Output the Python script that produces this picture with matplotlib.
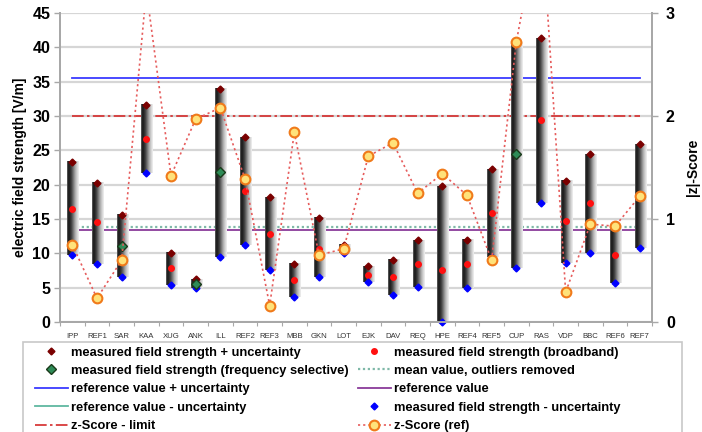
import matplotlib

matplotlib.use("Agg")
import matplotlib.pyplot as plt
import numpy as np
from matplotlib.colors import LinearSegmentedColormap
from matplotlib.lines import Line2D
from matplotlib.patches import Rectangle

plt.rcParams["font.family"] = ["Liberation Sans", "DejaVu Sans"]

# ---- data ----
labs = ["IPP", "REF1", "SAR", "KAA", "XUG", "ANK", "ILL", "REF2", "REF3", "MBB",
        "GKN", "LOT", "EJK", "DAV", "REQ", "HPE", "REF4", "REF5", "CUP", "RAS",
        "VDP", "BBC", "REF6", "REF7"]
upper = [23.25, 20.3, 15.6, 31.6, 10.1, 6.2, 34.0, 26.9, 18.2, 8.5,
         15.2, 11.2, 8.1, 9.0, 11.9, 19.8, 12.0, 22.3, 40.8, 41.4,
         20.6, 24.5, 13.9, 25.9]
lower = [9.7, 8.4, 6.5, 21.65, 5.4, 4.9, 9.5, 11.2, 7.6, 3.6,
         6.6, 10.0, 5.8, 3.9, 5.1, 0.0, 5.0, 9.5, 7.9, 17.4,
         8.6, 10.1, 5.7, 10.8]
nan = np.nan
broadband = [16.5, 14.5, nan, 26.6, 7.8, nan, nan, 19.1, 12.8, 6.1,
             10.7, 10.6, 6.9, 6.5, 8.4, 7.6, 8.5, 15.9, nan, 29.4,
             14.7, 17.4, 9.75, 18.35]
freqsel = [nan, nan, 11.0, nan, nan, 5.5, 21.8, nan, nan, nan,
           nan, nan, nan, nan, nan, nan, nan, nan, 24.4, nan,
           nan, nan, nan, nan]
zscore = [0.75, 0.23, 0.60, 3.22, 1.42, 1.97, 2.08, 1.39, 0.16, 1.84,
          0.65, 0.71, 1.61, 1.74, 1.25, 1.44, 1.23, 0.60, 2.72, 4.0,
          0.29, 0.95, 0.93, 1.22]
REF_PLUS = 35.5
REF_VALUE = 13.4
REF_MINUS = REF_VALUE - (REF_PLUS - REF_VALUE)  # below 0, off the chart
MEAN_CLEAN = 13.9
Z_LIMIT = 2.0

BOLD = dict(fontweight="bold")
GRID = "#d6d6d6"
SPINE = "#a8a8a8"
ZLINE = dict(ls=(0, (1.3, 1.8)), lw=1.2, color="#e65c5c", marker="o",
             ms=7, mfc="#ffe27a", mec="#f07a1a", mew=1.5)

x = np.arange(len(labs))
fig = plt.figure(figsize=(7.02, 4.32), dpi=100)
ax = fig.add_axes([60 / 702, 110 / 432, 592 / 702, 309 / 432])
ax2 = ax.twinx()

# horizontal reference lines (behind the bars)
span = [x[0], x[-1]]
ax.plot(span, [REF_PLUS] * 2, color="#3a3aff", lw=1.3, zorder=2)
ax.plot(span, [REF_VALUE] * 2, color="#8a3c9a", lw=1.3, zorder=2)
ax.plot(span, [REF_MINUS] * 2, color="#5fb8a0", lw=1.3, zorder=2)
ax.plot(span, [MEAN_CLEAN] * 2, color="#7fb8a8", lw=1.6,
        ls=(0, (1, 1.2)), zorder=2)
ax.plot(span, [Z_LIMIT * 15] * 2, color="#d42a2a", lw=1.2,
        ls=(0, (7, 2, 1.5, 2)), zorder=2)

# cylinder-like gradient bars
cyl = LinearSegmentedColormap.from_list(
    "cyl", [(0, "#6a6a6a"), (0.12, "#151515"), (0.35, "#3c3c3c"),
            (0.72, "#b4b4b4"), (1, "#f2f2f2")])
grad = np.linspace(0, 1, 64).reshape(1, -1)
for xi, lo, hi in zip(x, lower, upper):
    ax.imshow(grad, cmap=cyl, aspect="auto", interpolation="bilinear",
              extent=(xi - 0.2, xi + 0.26, lo, hi), zorder=3)

ax.plot(x, upper, ls="none", marker="D", ms=3.5, color="#7a0000", zorder=4)
ax.plot(x, broadband, ls="none", marker="o", ms=4, color="#ff1010", zorder=4)
ax.plot(x, lower, ls="none", marker="D", ms=3.5, color="#0000ff", zorder=4,
        clip_on=False)
ax.plot(x, freqsel, ls="none", marker="D", ms=5.5, mfc="#2e8b57", mec="#1a3a1a",
        mew=1.0, zorder=5)

ax.set_xlim(-0.5, len(labs) - 0.5)
ax.set_ylim(0, 45)
ax.set_aspect("auto")
ax.set_yticks(range(0, 46, 5))
ax.yaxis.grid(True, color=GRID, lw=1.6, zorder=0)
ax.set_axisbelow(True)
ax.set_xticks(x)
ax.set_xticklabels(labs, fontsize=5.6, color="#333333")
ax.set_xticks(np.arange(-0.5, len(labs), 1), minor=True)
ax.tick_params(axis="x", which="major", length=0, pad=8)
ax.tick_params(axis="x", which="minor", length=3, color=SPINE, width=0.8)
ax.tick_params(axis="y", length=4, color=SPINE, width=1.0, pad=3,
               labelsize=11.5)
for t in ax.get_yticklabels():
    t.set_fontweight("bold")
ax.set_ylabel("electric field strength [V/m]", fontsize=10, labelpad=4, **BOLD)

# z-score on the right axis
ax2.plot(x, zscore, zorder=6, **ZLINE)
ax2.set_ylim(0, 3)
ax2.set_yticks([0, 1, 2, 3])
ax2.tick_params(axis="y", length=4, color=SPINE, width=1.0, pad=6,
                labelsize=11.5)
for t in ax2.get_yticklabels():
    t.set_fontweight("bold")
ax2.set_ylabel("|z|-Score", fontsize=10, labelpad=8, **BOLD)

for a in (ax, ax2):
    a.spines["top"].set_visible(False)
    for side in ("left", "right", "bottom"):
        a.spines[side].set_color(SPINE)
        a.spines[side].set_linewidth(1.4)

# legend in a box under the plot
handles = [
    Line2D([], [], ls="none", marker="D", ms=3.5, color="#7a0000"),
    Line2D([], [], ls="none", marker="D", ms=5.5, mfc="#2e8b57", mec="#1a3a1a"),
    Line2D([], [], color="#3a3aff", lw=1.3),
    Line2D([], [], color="#5fb8a0", lw=1.3),
    Line2D([], [], color="#d42a2a", lw=1.2, ls=(0, (7, 2, 1.5, 2))),
    Line2D([], [], ls="none", marker="o", ms=4, color="#ff1010"),
    Line2D([], [], color="#7fb8a8", lw=1.6, ls=(0, (1, 1.2))),
    Line2D([], [], color="#8a3c9a", lw=1.3),
    Line2D([], [], ls="none", marker="D", ms=3.5, color="#0000ff"),
    Line2D([], [], **ZLINE),
]
labels = [
    "measured field strength + uncertainty",
    "measured field strength (frequency selective)",
    "reference value + uncertainty",
    "reference value - uncertainty",
    "z-Score - limit",
    "measured field strength (broadband)",
    "mean value, outliers removed",
    "reference value",
    "measured field strength - uncertainty",
    "z-Score (ref)",
]
fig.patches.append(Rectangle((23 / 702, -10 / 432), 659 / 702, 100 / 432,
                             transform=fig.transFigure, fill=False,
                             ec="#c8c8c8", lw=1.2))
fig.legend(handles, labels, loc="upper left",
           bbox_to_anchor=(35 / 702, 1 - 346.5 / 432), ncol=2, frameon=False,
           borderpad=0, borderaxespad=0, handlelength=2.55, handletextpad=0.25,
           columnspacing=0.7, labelspacing=0.49,
           prop=dict(size=9.3, weight="bold"))

fig.savefig("out.png", dpi=100)
